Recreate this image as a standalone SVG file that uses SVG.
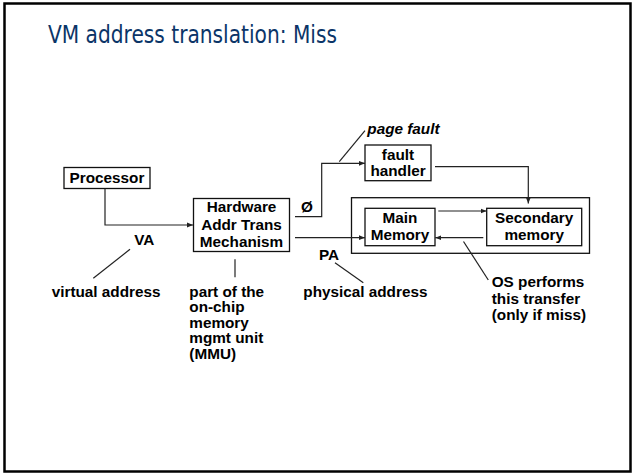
<svg xmlns="http://www.w3.org/2000/svg" width="633" height="474" viewBox="0 0 633 474">
  <style>
    .box { fill: #fff; stroke: #111; stroke-width: 1.3; }
    .frame { fill: none; stroke: #111; stroke-width: 1.3; }
    .lbl { font-family: "Liberation Sans", Arial, sans-serif; font-weight: bold; font-size: 15.3px; fill: #000; }
    .mid { text-anchor: middle; }
    .wire { fill: none; stroke: #222; stroke-width: 1.2; }
    .arrow { fill: none; stroke: #222; stroke-width: 1.2; marker-end: url(#head); }
    .title { font-family: "DejaVu Sans Condensed", "DejaVu Sans", sans-serif; font-size: 24.5px; fill: #0b3568; }
  </style>
  <defs>
    <marker id="head" viewBox="0 0 10 10" refX="10" refY="5" markerWidth="6" markerHeight="6" markerUnits="userSpaceOnUse" orient="auto">
      <path d="M0,1 L10,5 L0,9 Z" fill="#222"/>
    </marker>
  </defs>

  <!-- slide frame -->
  <rect x="4.5" y="3.5" width="626" height="468" fill="#fff" stroke="#000" stroke-width="2.5"/>

  <text class="title" x="48" y="43" textLength="289" lengthAdjust="spacingAndGlyphs">VM address translation: Miss</text>

  <g id="processor">
    <rect class="box" x="64" y="167.5" width="86" height="21"/>
    <text class="lbl mid" x="107" y="182.7">Processor</text>
  </g>

  <g id="mmu">
    <rect class="box" x="193.5" y="198.5" width="96" height="53"/>
    <text class="lbl mid" x="241.5" y="212.3">Hardware</text>
    <text class="lbl mid" x="241.5" y="229.5">Addr Trans</text>
    <text class="lbl mid" x="241.5" y="246.7">Mechanism</text>
  </g>

  <g id="fault-handler">
    <rect class="box" x="365" y="145" width="66" height="35.7"/>
    <text class="lbl mid" x="398" y="159.5">fault</text>
    <text class="lbl mid" x="398" y="175.5">handler</text>
  </g>

  <!-- enclosure around the two memory levels -->
  <g id="memory-system">
    <rect class="frame" x="351.5" y="197.7" width="238" height="55.6"/>
  </g>

  <g id="main-memory">
    <rect class="box" x="365" y="208.3" width="70" height="37.4"/>
    <text class="lbl mid" x="400" y="223.3">Main</text>
    <text class="lbl mid" x="400" y="239.5">Memory</text>
  </g>

  <g id="secondary-memory">
    <rect class="box" x="486.7" y="208.3" width="95" height="37.4"/>
    <text class="lbl mid" x="534.2" y="223.3">Secondary</text>
    <text class="lbl mid" x="534.2" y="239.5">memory</text>
  </g>

  <!-- connectors -->
  <g id="connectors">
    <path class="arrow" d="M105,188.5 V225 H193"/>
    <path class="arrow" d="M295,216.7 H321.7 V163.3 H365"/>
    <path class="arrow" d="M295,237.7 H365"/>
    <path class="arrow" d="M435,166.7 H528.3 V203.5"/>
    <path class="arrow" d="M438.3,211 H486.5"/>
    <path class="arrow" d="M483.3,237.7 H435.2"/>
    <!-- callout leaders -->
    <line class="wire" x1="339.3" y1="161.7" x2="365" y2="130.7"/>
    <line class="wire" x1="130" y1="249.3" x2="93.3" y2="278.3"/>
    <line class="wire" x1="235" y1="259.3" x2="235" y2="277.3"/>
    <line class="wire" x1="335" y1="262.7" x2="363.3" y2="282.7"/>
    <line class="wire" x1="463.5" y1="241.5" x2="488.3" y2="280"/>
  </g>

  <!-- labels -->
  <g id="labels">
    <text class="lbl" x="367.3" y="134" font-style="italic">page fault</text>
    <text class="lbl" x="301" y="212">Ø</text>
    <text class="lbl" x="134.3" y="245">VA</text>
    <text class="lbl" x="319" y="260">PA</text>
    <text class="lbl" x="51.7" y="296.7">virtual address</text>
    <text class="lbl" x="303.3" y="296.7">physical address</text>
    <text class="lbl" x="189.3" y="296.7">part of the</text>
    <text class="lbl" x="189.3" y="312">on-chip</text>
    <text class="lbl" x="189.3" y="327.5">memory</text>
    <text class="lbl" x="189.3" y="343">mgmt unit</text>
    <text class="lbl" x="189.3" y="358.5">(MMU)</text>
    <text class="lbl" x="491.7" y="287">OS performs</text>
    <text class="lbl" x="491.7" y="303.5">this transfer</text>
    <text class="lbl" x="491.7" y="320">(only if miss)</text>
  </g>
</svg>
